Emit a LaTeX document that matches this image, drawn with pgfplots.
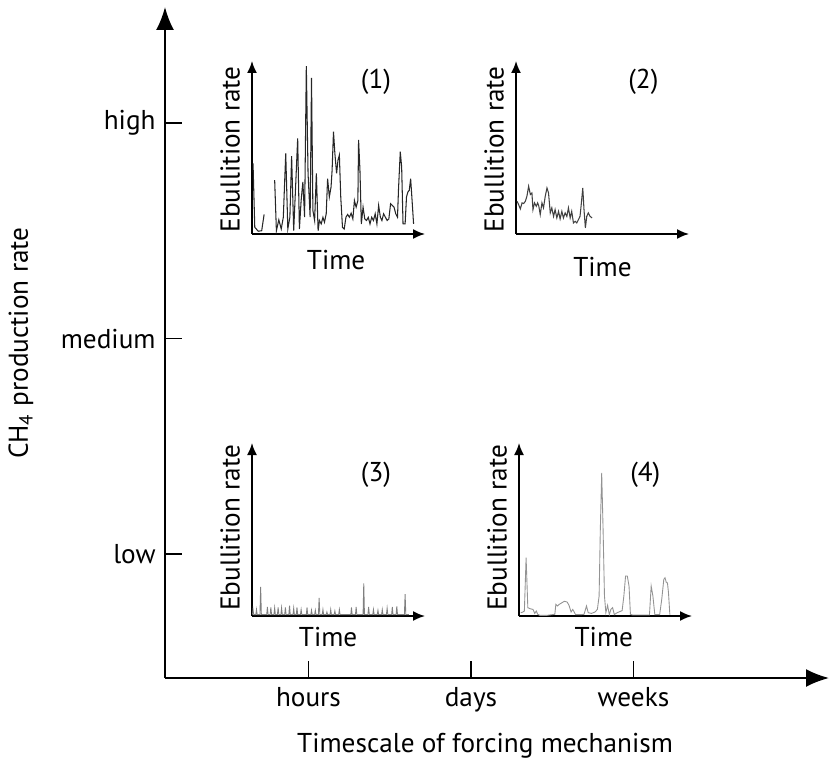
\documentclass[border=0pt]{standalone}
\usepackage{pgfplots}
\pgfplotsset{compat=1.18}
\usepackage{fontspec}
\setmainfont{PT Sans}
\usetikzlibrary{arrows.meta}
\pgfplotsset{
  inset/.style={
    scale only axis, width=3.46cm, height=3.46cm,
    xmin=0, xmax=100, ymin=0, ymax=100,
    axis lines=left,
    axis line style={line width=1pt, -{Latex[length=0.24cm,width=0.2cm]}},
    xtick=\empty, ytick=\empty,
    anchor=south west, clip=false,
    xlabel={Time}, ylabel={Ebullition rate},
  }
}
\begin{document}
\fontsize{15.5}{18}\selectfont
\begin{tikzpicture}[font=\fontsize{15.5}{18}\selectfont]
\begin{axis}[
  scale only axis, width=13.28cm, height=13.42cm,
  xmin=0, xmax=4.086, ymin=0, ymax=3.114,
  axis lines=left,
  axis line style={line width=1.1pt, -{Latex[length=0.46cm,width=0.36cm]}},
  xtick={0.883,1.883,2.883}, xticklabels={hours,days,weeks},
  ytick={0.575,1.575,2.575}, yticklabels={low,medium,high},
  tick align=inside, major tick length=0.34cm,
  tick style={line width=1pt, black},
  xlabel={Timescale of forcing mechanism},
  ylabel={CH\textsubscript{4} production rate},
  xlabel style={at={(axis description cs:0.482,-0.101)}, anchor=center},
  ylabel style={at={(axis description cs:-0.217,0.499)}, anchor=center},
]
\end{axis}

% Inset 1
\begin{axis}[inset, at={(1.74cm,8.88cm)},
  xlabel style={at={(axis description cs:0.486,-0.15)}, anchor=center},
  ylabel style={at={(axis description cs:-0.127,-0.045)}, anchor=west},
]
\addplot[black!85, line width=0.6pt] coordinates {
(0.6,40.8)(1.6,3.9)(3.6,1.6)(5.6,1.9)(7.0,11.3)};
\addplot[black!85, line width=0.6pt] coordinates {
(13.1,31.1)(14.1,1.9)(15.5,8.2)(16.9,2.9)(18.1,9.7)(19.5,46.6)(20.7,2.9)(21.9,9.7)
(22.9,45.0)(24.1,1.9)(25.2,27.2)(26.4,55.3)(27.4,2.9)(28.4,19.4)(29.4,30.1)(30.4,9.7)
(31.4,97.1)(32.4,35.0)(33.6,9.7)(34.4,90.3)(35.2,13.6)(36.2,7.8)(37.2,35.0)(38.2,1.9)
(39.0,7.8)(40.0,5.8)(41.0,9.7)(41.9,6.8)(42.9,11.7)(43.7,32.0)(44.7,21.4)(45.7,27.2)
(46.3,36.9)(47.1,59.2)(47.9,46.6)(48.9,35.0)(49.7,42.7)(50.5,45.6)(51.3,21.4)(52.3,3.9)
(53.3,2.9)(54.3,9.7)(55.3,11.3)(56.3,9.7)(57.3,12.0)(58.3,8.7)(59.2,19.4)(60.2,15.5)
(61.2,19.4)(61.6,54.4)(62.4,36.9)(63.2,5.8)(64.2,15.5)(65.2,8.7)(66.2,7.8)(67.2,9.7)
(68.2,5.8)(69.2,9.7)(70.2,7.8)(71.2,11.7)(72.2,5.8)(73.2,16.5)(74.2,9.7)(75.1,7.8)
(76.1,11.7)(77.1,9.7)(78.1,7.8)(79.1,8.7)(80.1,17.5)(81.1,16.5)(82.1,15.5)(83.1,11.7)
(84.1,9.7)(84.7,26.2)(85.7,47.6)(86.5,38.8)(87.3,5.8)(88.5,5.8)(89.3,21.4)(90.1,24.3)
(90.9,25.2)(91.7,32.0)(92.4,21.4)(93.4,5.8)};
\node at (axis description cs:0.717,0.879) {(1)};
\end{axis}

% Inset 2
\begin{axis}[inset, at={(7.02cm,8.88cm)},
  xlabel style={at={(axis description cs:0.5,-0.19)}, anchor=center},
  ylabel style={at={(axis description cs:-0.127,-0.045)}, anchor=west},
]
\addplot[black!75, line width=0.6pt] coordinates {
(0.6,18.9)(1.5,17.0)(2.5,14.5)(3.5,18.0)(4.4,17.6)(5.4,18.9)(6.3,21.8)(7.3,27.6)
(8.3,22.8)(9.2,23.7)(9.8,14.1)(10.7,18.0)(11.7,16.0)(12.5,18.0)(13.2,16.0)(14.0,11.2)
(15.0,18.0)(15.9,15.1)(16.9,21.8)(17.9,26.6)(18.8,23.7)(19.8,12.2)(20.7,15.1)(21.7,10.2)
(22.6,14.1)(23.6,9.3)(24.6,13.1)(25.5,8.7)(26.5,13.1)(27.4,9.3)(28.4,12.2)(29.4,10.2)
(30.3,15.1)(31.3,9.3)(32.2,13.1)(33.2,6.4)(34.2,7.3)(35.1,6.4)(36.1,8.3)(37.0,10.2)
(37.6,16.0)(38.6,26.6)(39.3,14.1)(40.1,3.5)(40.9,10.2)(41.8,12.2)(42.8,10.2)(44.0,9.3)};
\node at (axis description cs:0.736,0.879) {(2)};
\end{axis}

% Inset 3
\begin{axis}[inset, at={(1.74cm,1.24cm)},
  xlabel style={at={(axis description cs:0.44,-0.122)}, anchor=center},
  ylabel style={at={(axis description cs:-0.127,-0.025)}, anchor=west},
]
\addplot[gray, line width=0.5pt] coordinates {
(0.3,0.8)(0.6,3.7)(1.0,0.8)(2.2,0.8)(2.6,3.7)(3.0,0.8)(4.6,0.8)(5.0,16.9)(5.4,0.8)
(8.5,0.8)(8.9,5.2)(9.3,0.8)(10.5,0.8)(10.9,4.9)(11.3,0.8)(12.7,0.8)(13.1,4.7)(13.5,0.8)
(14.7,0.8)(15.1,4.9)(15.5,0.8)(16.7,0.8)(17.1,4.7)(17.5,0.8)(18.9,0.8)(19.3,4.9)(19.7,0.8)
(21.3,0.8)(21.7,6.0)(22.1,0.8)(23.7,0.8)(24.1,4.5)(24.5,0.8)(25.6,0.8)(26.0,4.9)(26.4,0.8)
(28.0,0.8)(28.4,3.7)(28.8,0.8)(31.4,0.8)(31.8,4.9)(32.2,0.8)(34.0,0.8)(34.4,3.3)(34.8,0.8)
(36.2,0.8)(36.6,3.3)(37.0,0.8)(38.4,0.8)(38.8,10.5)(39.2,0.8)(40.6,0.8)(41.0,3.7)(41.4,0.8)
(42.9,0.8)(43.3,2.3)(43.7,0.8)(45.1,0.8)(45.5,3.7)(45.9,0.8)(47.5,0.8)(47.9,2.9)(48.3,0.8)
(50.1,0.8)(50.5,3.7)(50.9,0.8)(57.1,0.8)(57.5,4.9)(57.9,0.8)(59.8,0.8)(60.2,5.2)(60.6,0.8)
(64.2,0.8)(64.6,18.8)(65.0,0.8)(67.0,0.8)(67.4,5.2)(67.8,0.8)(69.8,0.8)(70.2,3.7)(70.6,0.8)
(72.4,0.8)(72.8,3.3)(73.2,0.8)(74.9,0.8)(75.3,3.7)(75.7,0.8)(77.7,0.8)(78.1,4.5)(78.5,0.8)
(80.7,0.8)(81.1,5.2)(81.5,0.8)(83.3,0.8)(83.7,5.6)(84.1,0.8)(88.1,0.8)(88.5,12.6)(88.9,0.8)
(90.7,0.8)};
\node at (axis description cs:0.717,0.814) {(3)};
\end{axis}

% Inset 4
\begin{axis}[inset, at={(7.08cm,1.24cm)},
  xlabel style={at={(axis description cs:0.49,-0.122)}, anchor=center},
  ylabel style={at={(axis description cs:-0.127,-0.025)}, anchor=west},
]
\addplot[gray!85, line width=0.5pt] coordinates {
(1.0,1.9)(2.2,2.3)(3.1,2.9)(4.1,33.7)(5.1,4.8)(6.5,4.2)(8.1,3.8)(9.1,1.5)(10.0,2.9)
(10.8,1.0)(12.0,0.4)(16.3,0.4)(20.7,1.0)(21.3,6.7)(22.2,5.8)(23.2,6.7)(24.2,7.3)(26.2,8.5)
(27.8,8.1)(28.9,6.2)(30.1,2.3)(31.1,3.8)(32.7,0.8)(36.0,0.8)(37.6,1.0)(39.0,5.8)(40.0,1.9)
(41.9,1.5)(43.9,2.3)(45.3,3.8)(46.3,11.5)(47.0,50.0)(47.8,82.7)(48.6,50.0)(49.4,11.5)
(50.2,1.9)(51.2,6.2)(52.2,0.8)(53.1,3.8)(54.1,4.8)(55.1,0.8)(56.7,1.9)(59.6,3.1)(60.6,11.5)
(61.6,23.1)(62.6,23.1)(63.6,17.3)(64.4,1.0)(65.6,0.6)(75.4,0.6)(76.4,17.3)(77.4,11.5)
(78.5,0.8)(81.3,0.8)(82.5,9.6)(83.7,21.2)(84.4,22.1)(85.2,19.2)(85.8,19.2)(86.4,13.5)(87.2,0.8)};
\node at (axis description cs:0.73,0.814) {(4)};
\end{axis}
\pgfresetboundingbox
\path (-3.30cm,-1.68cm) rectangle (13.28cm,13.56cm);
\end{tikzpicture}
\end{document}
